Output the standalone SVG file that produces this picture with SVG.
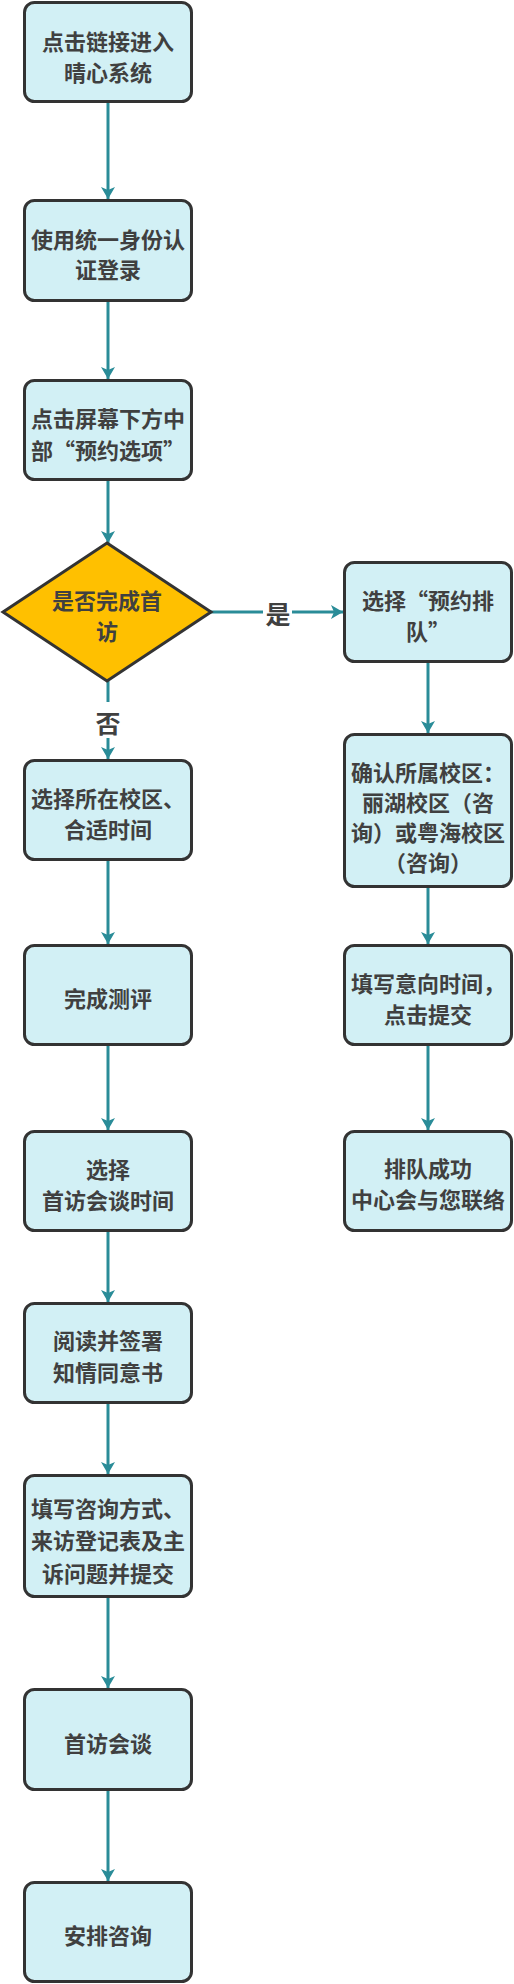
<svg xmlns="http://www.w3.org/2000/svg" width="514" height="1984" viewBox="0 0 514 1984">
<style>
.box{fill:#d2f0f5;stroke:#333333;stroke-width:3}
.dia{fill:#ffc000;stroke:#333333;stroke-width:3}
.t{font-family:"Noto Sans CJK SC","Noto Sans",sans-serif;font-weight:700;font-size:22px;fill:#404040;text-anchor:middle;dominant-baseline:central}
.lbl{font-family:"Noto Sans CJK SC","Noto Sans",sans-serif;font-weight:700;font-size:25px;fill:#404040;text-anchor:middle;dominant-baseline:central}
.c{fill:none;stroke:#2a8c98;stroke-width:3}
</style>
<defs>
<marker id="ah" viewBox="0 0 12 14" refX="12" refY="7" markerWidth="12" markerHeight="14" markerUnits="userSpaceOnUse" orient="auto">
<path d="M0,0 L12,7 L0,14 L3,7 Z" fill="#2a8c98"/>
</marker>
</defs>
<rect width="514" height="1984" fill="#ffffff"/>
<g id="connectors">
<path class="c" d="M108,103 V199" marker-end="url(#ah)"/>
<path class="c" d="M108,302 V379" marker-end="url(#ah)"/>
<path class="c" d="M108,481 V543" marker-end="url(#ah)"/>
<path class="c" d="M108,681 V702"/>
<path class="c" d="M108,738 V759" marker-end="url(#ah)"/>
<text class="lbl" x="108" y="722">否</text>
<path class="c" d="M211,612 H263"/>
<path class="c" d="M292,612 H343" marker-end="url(#ah)"/>
<text class="lbl" x="278" y="613">是</text>
<path class="c" d="M108,861 V944" marker-end="url(#ah)"/>
<path class="c" d="M108,1046 V1130" marker-end="url(#ah)"/>
<path class="c" d="M108,1232 V1302" marker-end="url(#ah)"/>
<path class="c" d="M108,1404 V1474" marker-end="url(#ah)"/>
<path class="c" d="M108,1598 V1688" marker-end="url(#ah)"/>
<path class="c" d="M108,1791 V1881" marker-end="url(#ah)"/>
<path class="c" d="M428,663 V733" marker-end="url(#ah)"/>
<path class="c" d="M428,888 V944" marker-end="url(#ah)"/>
<path class="c" d="M428,1046 V1130" marker-end="url(#ah)"/>
</g>
<g id="n1"><rect class="box" x="24.5" y="2.5" width="167" height="99" rx="10"/>
<text class="t" x="108" y="40">点击链接进入</text><text class="t" x="108" y="71">晴心系统</text></g>
<g id="n2"><rect class="box" x="24.5" y="200.5" width="167" height="100" rx="10"/>
<text class="t" x="108" y="238">使用统一身份认</text><text class="t" x="108" y="268">证登录</text></g>
<g id="n3"><rect class="box" x="24.5" y="380.5" width="167" height="99" rx="10"/>
<text class="t" x="108" y="417">点击屏幕下方中</text><text class="t" x="108" y="449">部“预约选项”</text></g>
<g id="d1"><polygon class="dia" points="107,543 211,612 107,681 3,612"/>
<text class="t" x="107" y="599">是否完成首</text><text class="t" x="107" y="630">访</text></g>
<g id="n4"><rect class="box" x="24.5" y="760.5" width="167" height="99" rx="10"/>
<text class="t" x="108" y="797">选择所在校区、</text><text class="t" x="108" y="828">合适时间</text></g>
<g id="n5"><rect class="box" x="24.5" y="945.5" width="167" height="99" rx="10"/>
<text class="t" x="108" y="997">完成测评</text></g>
<g id="n6"><rect class="box" x="24.5" y="1131.5" width="167" height="99" rx="10"/>
<text class="t" x="108" y="1168">选择</text><text class="t" x="108" y="1199">首访会谈时间</text></g>
<g id="n7"><rect class="box" x="24.5" y="1303.5" width="167" height="99" rx="10"/>
<text class="t" x="108" y="1339">阅读并签署</text><text class="t" x="108" y="1371">知情同意书</text></g>
<g id="n8"><rect class="box" x="24.5" y="1475.5" width="167" height="121" rx="10"/>
<text class="t" x="108" y="1507">填写咨询方式、</text><text class="t" x="108" y="1539">来访登记表及主</text><text class="t" x="108" y="1572">诉问题并提交</text></g>
<g id="n9"><rect class="box" x="24.5" y="1689.5" width="167" height="100" rx="10"/>
<text class="t" x="108" y="1742">首访会谈</text></g>
<g id="n10"><rect class="box" x="24.5" y="1882.5" width="167" height="99" rx="10"/>
<text class="t" x="108" y="1934">安排咨询</text></g>
<g id="r1"><rect class="box" x="344.5" y="562.5" width="167" height="99" rx="10"/>
<text class="t" x="428" y="599">选择“预约排</text><text class="t" x="428" y="630">队”</text></g>
<g id="r2"><rect class="box" x="344.5" y="734.5" width="167" height="152" rx="10"/>
<text class="t" x="428" y="771">确认所属校区：</text><text class="t" x="428" y="801">丽湖校区（咨</text><text class="t" x="428" y="831">询）或粤海校区</text><text class="t" x="428" y="861">（咨询）</text></g>
<g id="r3"><rect class="box" x="344.5" y="945.5" width="167" height="99" rx="10"/>
<text class="t" x="428" y="982">填写意向时间，</text><text class="t" x="428" y="1013">点击提交</text></g>
<g id="r4"><rect class="box" x="344.5" y="1131.5" width="167" height="99" rx="10"/>
<text class="t" x="428" y="1167">排队成功</text><text class="t" x="428" y="1198">中心会与您联络</text></g>
</svg>
